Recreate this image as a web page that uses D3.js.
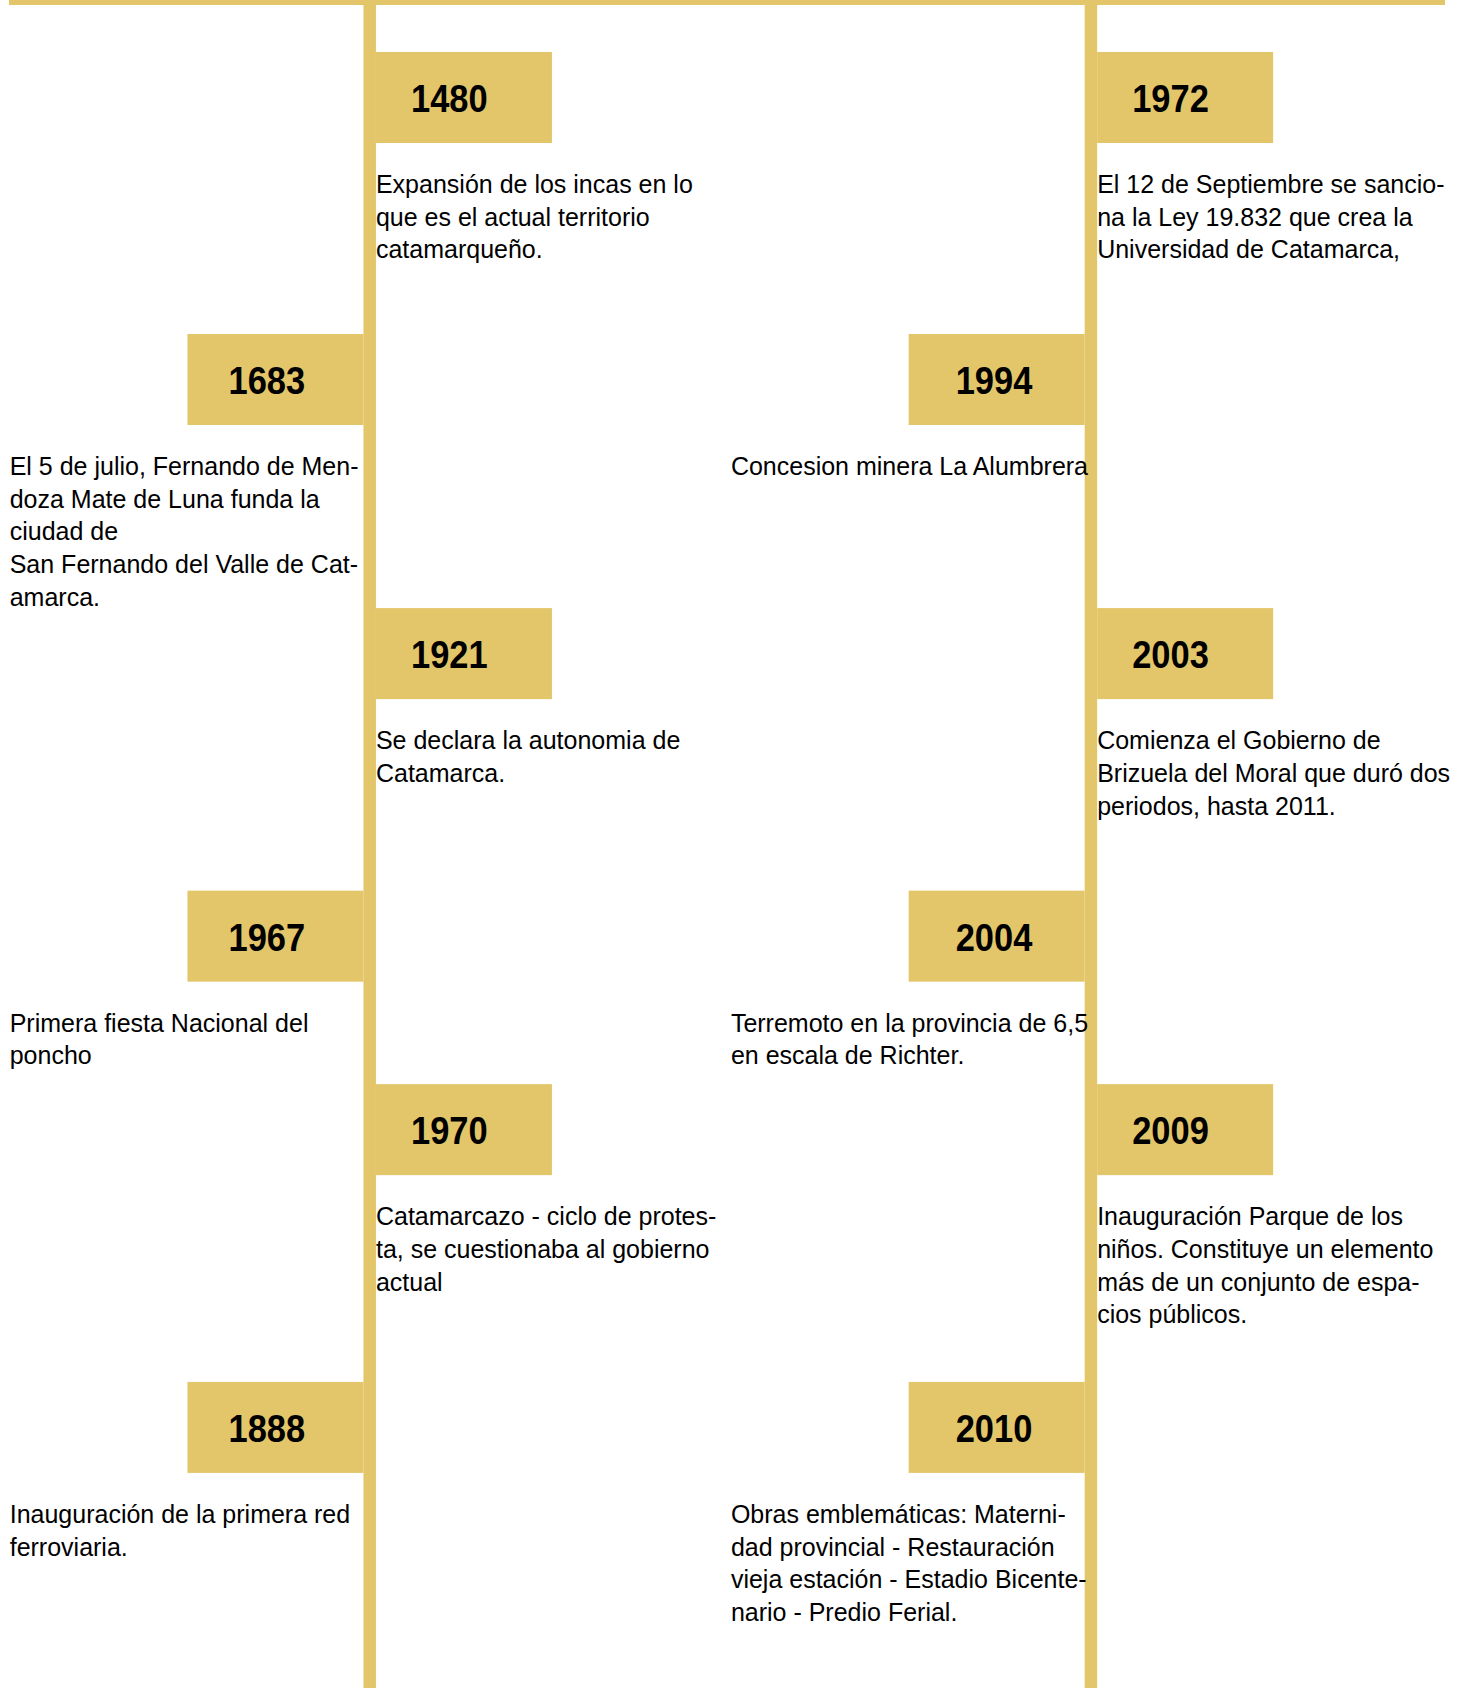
<!DOCTYPE html>
<html>
<head>
<meta charset="utf-8">
<script src="https://cdn.jsdelivr.net/npm/d3@7"></script>
<style>
  html, body { margin: 0; padding: 0; background: #ffffff; }
  svg { display: block; }
</style>
</head>
<body>
<div id="chart"></div>
<script>
// ---- Data ----
const years = ["1480", "1683", "1921", "1967", "1970", "1888",
               "1972", "1994", "2003", "2004", "2009", "2010"];
// which vertical timeline (0 = left, 1 = right)
const columns = [0, 0, 0, 0, 0, 0, 1, 1, 1, 1, 1, 1];
// side of the line the year flag sits on
const sides = ["right", "left", "right", "left", "right", "left",
               "right", "left", "right", "left", "right", "left"];
// vertical slot along the timeline
const slots = [0, 1, 1.972, 2.974, 3.66, 4.716,
               0, 1, 1.972, 2.974, 3.66, 4.716];
const descriptions = [
  ["Expansión de los incas en lo", "que es el actual territorio", "catamarqueño."],
  ["El 5 de julio, Fernando de Men-", "doza Mate de Luna funda la", "ciudad de", "San Fernando del Valle de Cat-", "amarca."],
  ["Se declara la autonomia de", "Catamarca."],
  ["Primera fiesta Nacional del", "poncho"],
  ["Catamarcazo - ciclo de protes-", "ta, se cuestionaba al gobierno", "actual"],
  ["Inauguración de la primera red", "ferroviaria."],
  ["El 12 de Septiembre se sancio-", "na la Ley 19.832 que crea la", "Universidad de Catamarca,"],
  ["Concesion minera La Alumbrera"],
  ["Comienza el Gobierno de", "Brizuela del Moral que duró dos", "periodos, hasta 2011."],
  ["Terremoto en la provincia de 6,5", "en escala de Richter."],
  ["Inauguración Parque de los", "niños. Constituye un elemento", "más de un conjunto de espa-", "cios públicos."],
  ["Obras emblemáticas: Materni-", "dad provincial - Restauración", "vieja estación - Estadio Bicente-", "nario - Predio Ferial."]
];

const events = years.map((y, i) => ({
  year: y, col: columns[i], side: sides[i], slot: slots[i], lines: descriptions[i]
}));

// ---- Layout ----
const W = 1467, H = 1688;
const gold = "#E4C66A";
const lineW = 12.5;
const boxW = 176, boxH = 91;
const bodyFont = "'Liberation Sans', Arial, Helvetica, sans-serif";

const x = d3.scaleLinear().domain([0, 1]).range([369.7, 1090.9]);
const y = d3.scaleLinear().domain([0, 5]).range([52, 52 + 5 * 282]);

const svg = d3.select("#chart").append("svg")
  .attr("width", W).attr("height", H)
  .attr("viewBox", `0 0 ${W} ${H}`);

// top bar
svg.append("rect")
  .attr("x", 9).attr("y", 0)
  .attr("width", 1445 - 9).attr("height", 5)
  .attr("fill", gold);

// vertical timelines
svg.selectAll("rect.vline").data([0, 1]).join("rect")
  .attr("class", "vline")
  .attr("x", d => x(d) - lineW / 2)
  .attr("y", 0)
  .attr("width", lineW)
  .attr("height", H)
  .attr("fill", gold);

const g = svg.selectAll("g.event").data(events).join("g").attr("class", "event");

const boxX = d => d.side === "right" ? x(d.col) + lineW / 2 : x(d.col) - lineW / 2 - boxW;

// year flags
g.append("rect")
  .attr("x", boxX)
  .attr("y", d => y(d.slot))
  .attr("width", boxW)
  .attr("height", boxH)
  .attr("fill", gold);

g.append("text")
  .attr("transform", d => {
    const pad = d.side === "right" ? 35 : (d.col === 0 ? 41 : 47);
    const tx = boxX(d) + pad;
    const ty = y(d.slot) + 60;
    return `translate(${tx},${ty}) scale(1,1.12)`;
  })
  .attr("font-family", bodyFont)
  .attr("font-weight", "bold")
  .attr("font-size", 34.5)
  .attr("fill", "#000")
  .text(d => d.year);

// descriptions
g.append("text")
  .attr("font-family", bodyFont)
  .attr("font-size", 25)
  .attr("fill", "#000")
  .each(function(d) {
    const tx = d.side === "right" ? x(d.col) + lineW / 2 : x(d.col) - 360;
    const ty = y(d.slot) + 141;
    d3.select(this).selectAll("tspan").data(d.lines).join("tspan")
      .attr("x", tx)
      .attr("y", (l, i) => ty + i * 32.7)
      .text(l => l);
  });
</script>
</body>
</html>
